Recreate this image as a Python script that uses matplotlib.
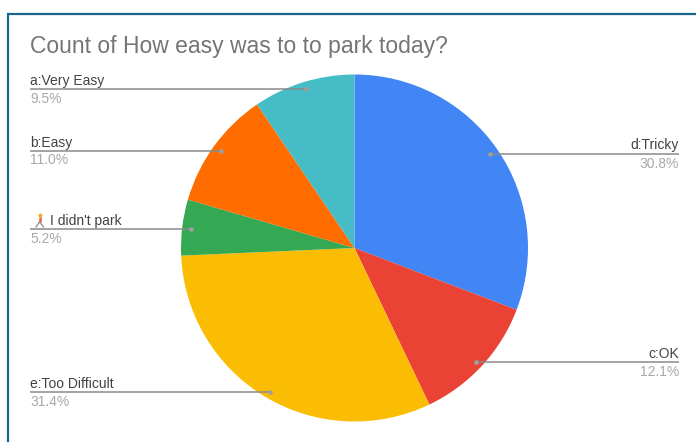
import matplotlib
matplotlib.use("Agg")
import matplotlib.pyplot as plt
from matplotlib.patches import Rectangle

plt.rcParams['font.family'] = ['Liberation Sans', 'DejaVu Sans']

W, H = 696, 442
title = "Count of How easy was to to park today?"
# clockwise from 12 o'clock
categories = ["d:Tricky", "c:OK", "e:Too Difficult", "I didn't park", "b:Easy", "a:Very Easy"]
shares = [30.8, 12.1, 31.4, 5.2, 11.0, 9.5]
share_labels = ["30.8%", "12.1%", "31.4%", "5.2%", "11.0%", "9.5%"]
colors = ["#4285F4", "#EA4335", "#FBBC04", "#34A853", "#FF6D01", "#46BDC6"]

fig = plt.figure(figsize=(W / 100, H / 100), dpi=100)
ax = fig.add_axes([0, 0, 1, 1])
ax.set_xlim(0, W)
ax.set_ylim(H, 0)
ax.axis("off")

ax.add_patch(Rectangle((8, 14), W, H, fc="white", ec="#1A6589", lw=1.6, clip_on=True))

# y axis points down here, so increasing angle runs clockwise on screen
ax.pie(shares, colors=colors, startangle=-90, counterclock=True, center=(354.5, 248),
       radius=173.5, frame=False, wedgeprops=dict(lw=0))
ax.set_xlim(0, W)
ax.set_ylim(H, 0)
ax.set_aspect("auto")

ax.text(30, 46.5, title, fontsize=16.5, color="#757575", va="center", ha="left")

leader_y = [153.5, 361.5, 391.5, 229, 150.5, 89]
dot_x = [490, 476, 270, 190.5, 221, 306]
left_x, right_x = 30, 679
for cat, pct, ly, dx in zip(categories, share_labels, leader_y, dot_x):
    right = dx > 354
    x0 = right_x if right else left_x
    ha = "right" if right else "left"
    ax.plot([x0, dx], [ly, ly], color="#8a8a8a", lw=1.1, solid_capstyle="butt")
    ax.plot([dx], [ly], "o", ms=3.4, color="#9e9e9e", mec="none")
    tx = x0
    if cat.startswith("I "):
        tx = x0 + 19.5
        # small walking figure standing in for the emoji
        ax.plot([39.5], [215], "o", ms=2.8, color="#F5A623", mec="none")
        ax.plot([39.5, 39.5], [216.5, 222], color="#E8663A", lw=1.8, solid_capstyle="butt")
        ax.plot([39.5, 36], [222, 227], color="#8a8a9a", lw=0.9)
        ax.plot([39.5, 43.5], [222, 227], color="#8a8a9a", lw=0.9)
    ax.text(tx, ly - 8, cat, fontsize=10, color="#424242", va="center", ha=ha)
    ax.text(x0, ly + 10, pct, fontsize=10, color="#a8a8a8", va="center", ha=ha)

fig.savefig("out.png", dpi=100, facecolor="white")
